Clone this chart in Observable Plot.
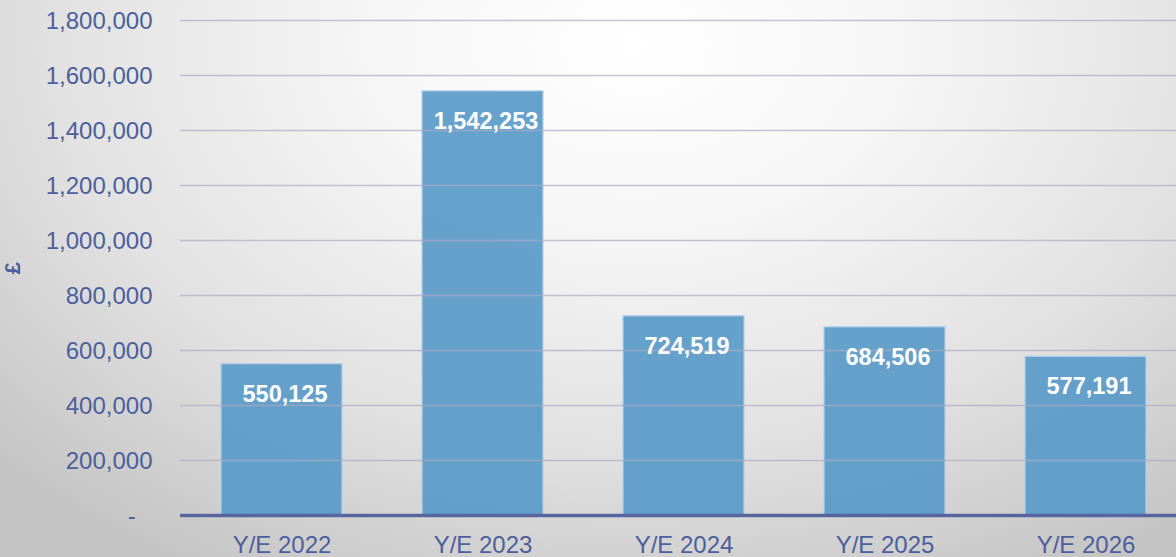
<!DOCTYPE html>
<html><head><meta charset="utf-8">
<script src="https://cdn.jsdelivr.net/npm/d3@7"></script>
<script src="https://cdn.jsdelivr.net/npm/@observablehq/plot@0.6"></script>
<style>
html,body{margin:0;padding:0;overflow:hidden;}
body{width:1176px;height:557px;background:radial-gradient(ellipse 75% 110% at 54% 8%, #ffffff 0%, #f6f6f6 30%, #e2e2e2 65%, #c4c4c4 100%);}
svg{background:transparent !important;}
</style>
</head><body>
<div id="chart"></div>
<script>
const categories = ["Y/E 2022", "Y/E 2023", "Y/E 2024", "Y/E 2025", "Y/E 2026"];
const values = [550125, 1542253, 724519, 684506, 577191];
const yTicks = [0, 200000, 400000, 600000, 800000, 1000000, 1200000, 1400000, 1600000, 1800000];

const data = categories.map((c, i) => ({cat: c, value: values[i]}));
const fmt = d3.format(",");
const textColor = "#4d5e9c";

const chart = Plot.plot({
  width: 1176,
  height: 557,
  marginTop: 20,
  marginBottom: 42,
  marginLeft: 180,
  marginRight: 0,
  style: {fontFamily: "'Liberation Sans', Arial, sans-serif", background: "transparent", overflow: "hidden"},
  x: {domain: categories, range: [180, 1187], paddingInner: 0.4, paddingOuter: 0.2, label: null},
  y: {domain: [0, 1800000], label: null},
  marks: [
    Plot.barY(data, {x: "cat", y: "value", fill: "#5b9bc8", fillOpacity: 0.93, stroke: "#b4d0e6", strokeWidth: 1.2}),
    Plot.ruleY(yTicks.filter(d => d > 0), {stroke: "#a9abc4", strokeOpacity: 0.7, strokeWidth: 1.3}),
    Plot.ruleY([0], {stroke: "#56659f", strokeWidth: 3.5}),
    Plot.axisY({ticks: yTicks, tickSize: 0, tickPadding: 28, fontSize: 24, color: textColor, dy: 1,
      tickFormat: d => d === 0 ? "-\u2002\u2009" : fmt(d),
      label: "£", labelAnchor: "center", labelOffset: 176, labelArrow: "none"}),
    Plot.axisX({tickSize: 0, tickPadding: 20, fontSize: 24, color: textColor, label: null}),
    Plot.text(data, {x: "cat", y: "value", text: d => fmt(d.value), dy: 30, dx: 3, fill: "white", fontSize: 23.5, fontWeight: "bold"})
  ]
});
document.getElementById("chart").appendChild(chart);
chart.querySelectorAll("[aria-label='y-axis label'] text").forEach(t => { t.setAttribute("font-weight", "bold"); t.setAttribute("font-size", 22); });
</script>
</body></html>
